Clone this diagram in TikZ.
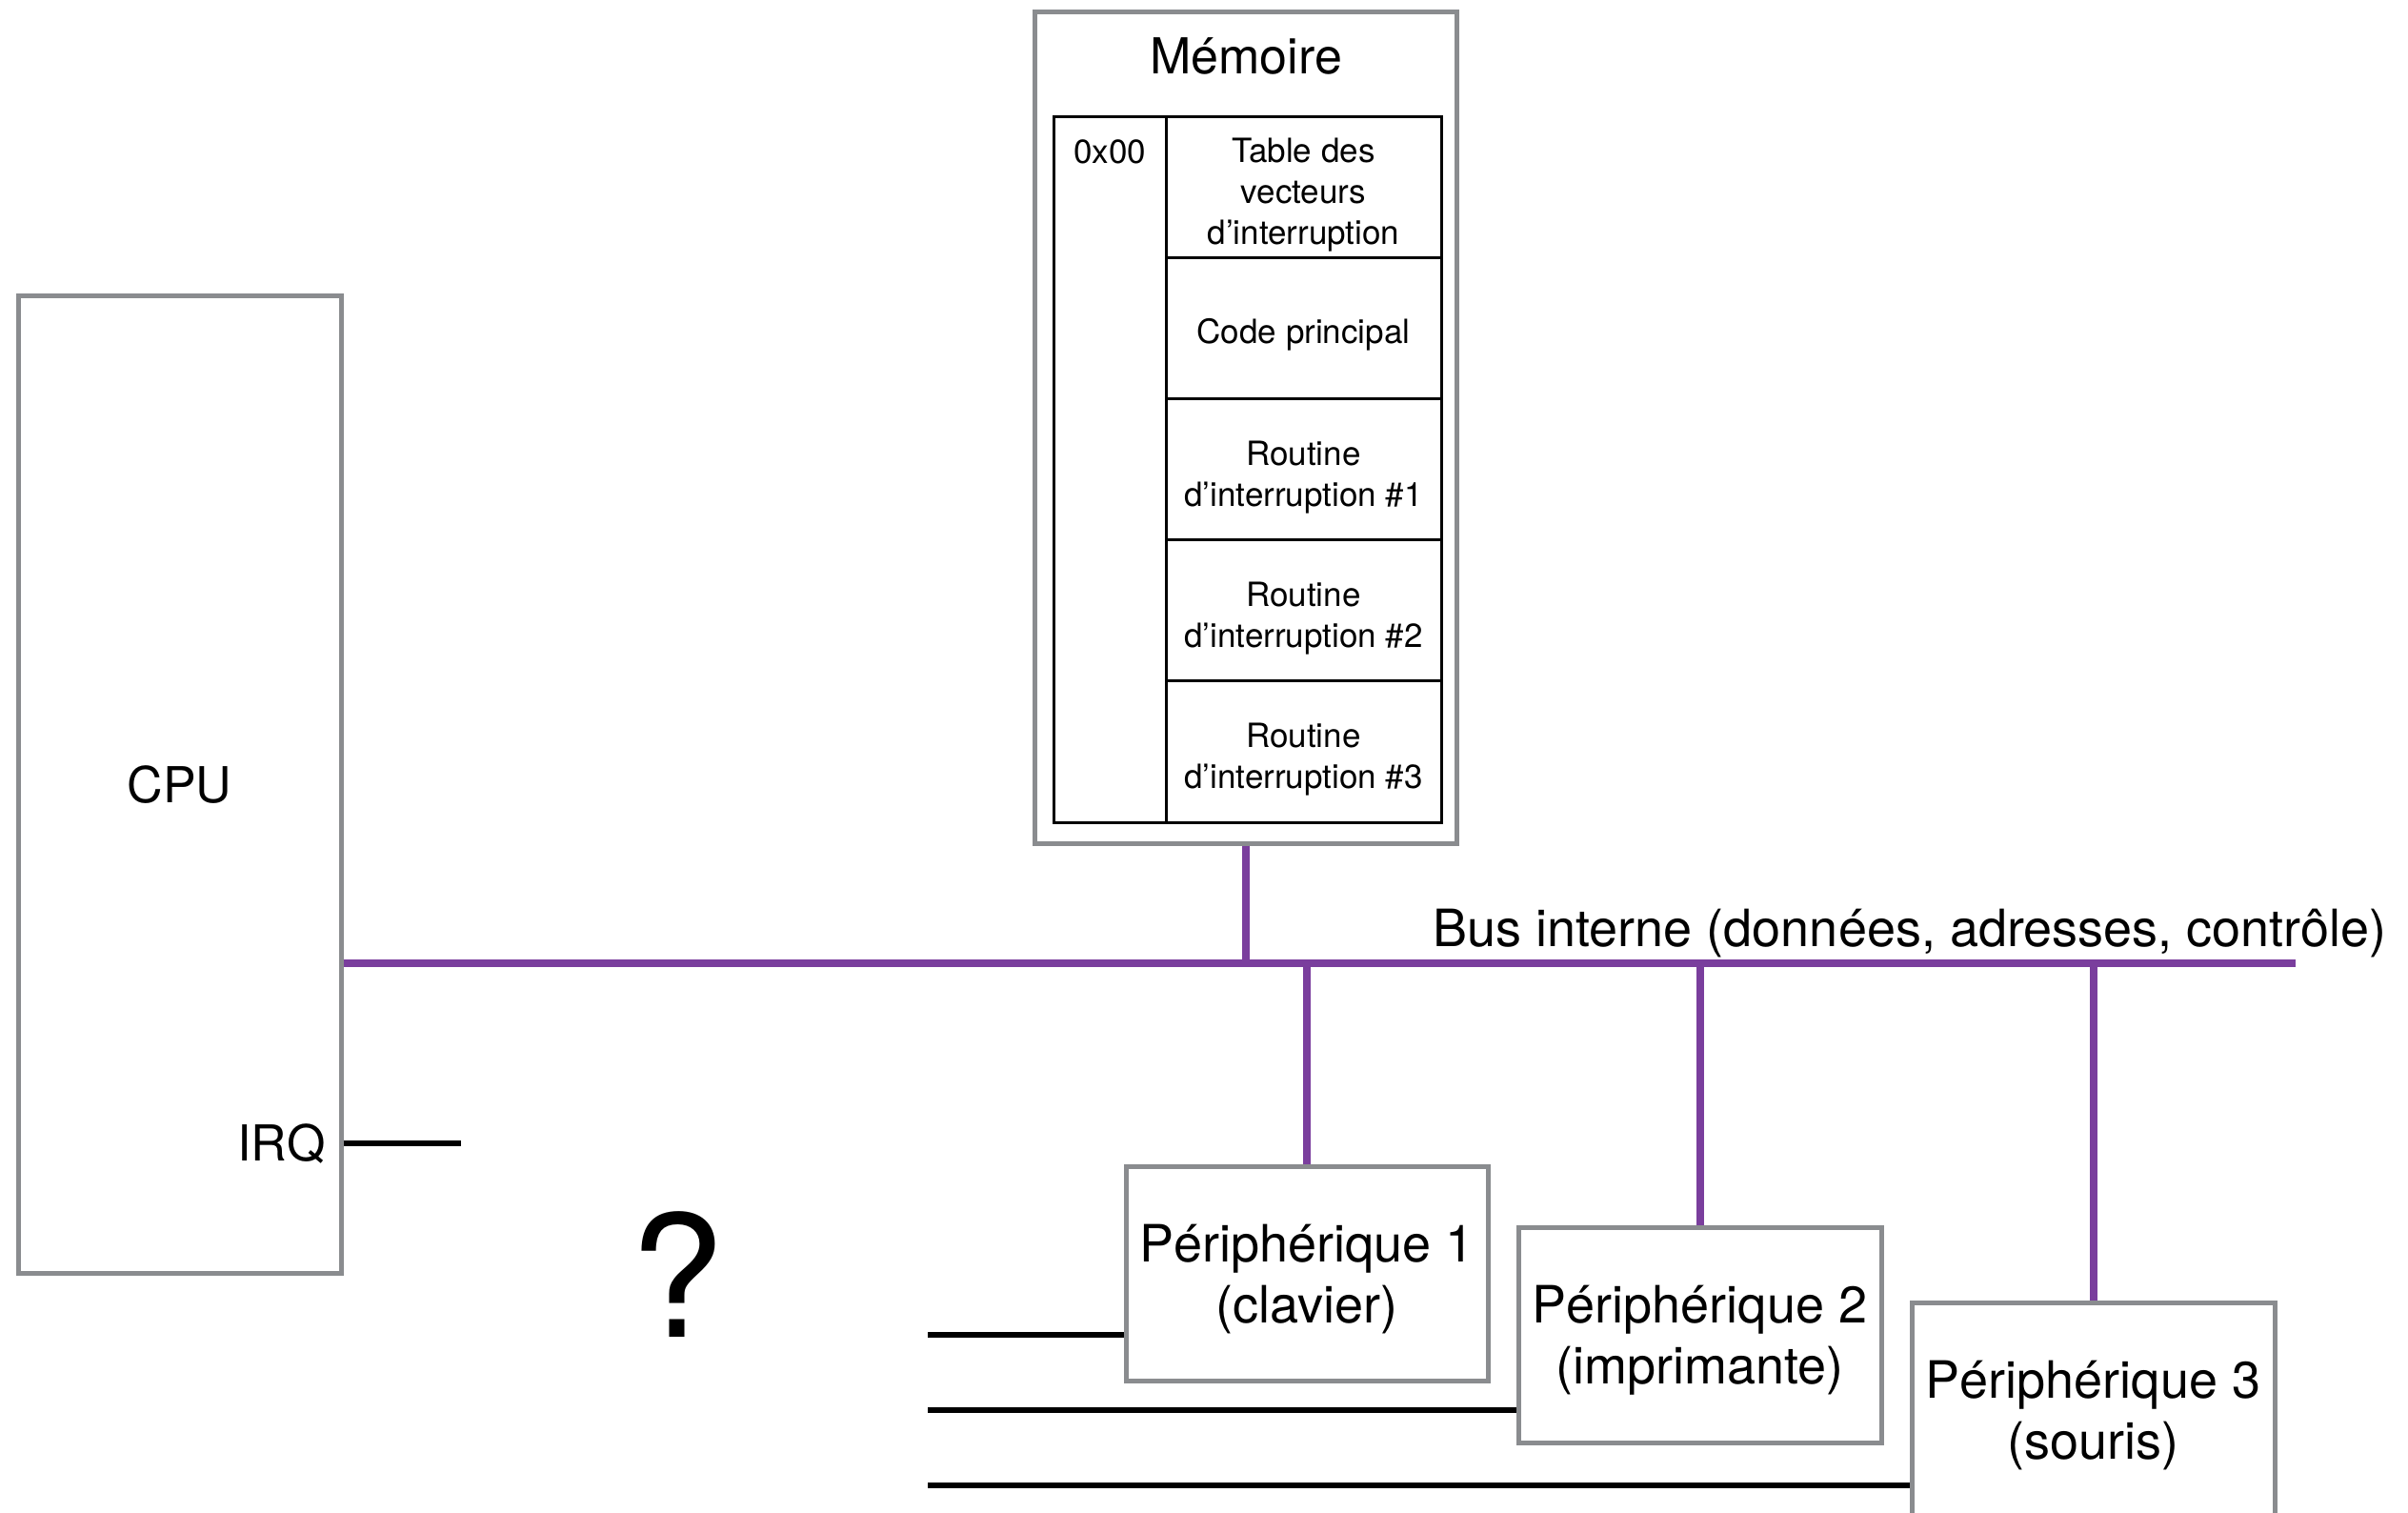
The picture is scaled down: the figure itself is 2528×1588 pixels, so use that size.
\documentclass[tikz,border=0pt]{standalone}
\usepackage{fontspec}
\setmainfont{TeX Gyre Heros}
\definecolor{boxgray}{HTML}{8A8C8F}
\definecolor{buspurple}{HTML}{7A3E9D}
\begin{document}
\begin{tikzpicture}[x=0.5pt,y=-0.5pt,
  graybox/.style={draw=boxgray,line width=2.5pt,fill=white,inner sep=0pt,align=center},
  cell/.style={draw=black,line width=1.5pt,inner sep=0pt,minimum width=144.5pt,minimum height=74pt},
  celltxt/.style={inner sep=0pt,align=center,font=\fontsize{17.5}{21.5}\selectfont},
  bigtxt/.style={font=\fontsize{26}{32}\selectfont},
  pertxt/.style={font=\fontsize{27}{32}\selectfont,align=center,inner sep=0pt},
  bus/.style={draw=buspurple,line width=4pt},
  sig/.style={draw=black,line width=3pt}]
\useasboundingbox (0,0) rectangle (2528,1588);
\clip (0,0) rectangle (2528,1588);
% CPU
\node[graybox,bigtxt,minimum width=169.5pt,minimum height=512.5pt] (cpu) at (188.5,823.5) {CPU};
\node[bigtxt,anchor=base east,inner sep=0pt] (irq) at (342,1218) {IRQ};
% Memory
\node[graybox,minimum width=221.5pt,minimum height=436pt] (mem) at (1307.5,449) {};
\node[bigtxt,anchor=base,inner sep=0pt] (memtitle) at (1308,78) {Mémoire};
\node[draw=black,line width=1.5pt,inner sep=0pt,minimum width=59pt,minimum height=370pt] (addr) at (1165,493) {};
\node[anchor=base,inner sep=0pt,font=\fontsize{17.5}{21.5}\selectfont] (addr0) at (1165,172) {0x00};
\node[cell] (c1) at (1368.5,197) {};
\node[cell] (c2) at (1368.5,345) {};
\node[cell] (c3) at (1368.5,493) {};
\node[cell] (c4) at (1368.5,641) {};
\node[cell] (c5) at (1368.5,789) {};
\node[celltxt] (t1) at ([yshift=-4pt]c1.center) {Table des\\vecteurs\\d’interruption};
\node[celltxt] (t2) at ([yshift=-3pt]c2.center) {Code principal};
\node[celltxt] (t3) at ([yshift=-4pt]c3.center) {Routine\\d’interruption \#1};
\node[celltxt] (t4) at ([yshift=-4pt]c4.center) {Routine\\d’interruption \#2};
\node[celltxt] (t5) at ([yshift=-4pt]c5.center) {Routine\\d’interruption \#3};
% Peripherals
\node[graybox,minimum width=190pt,minimum height=112.5pt] (p1) at (1372,1336.5) {};
\node[graybox,minimum width=190.5pt,minimum height=113pt] (p2) at (1784.5,1401) {};
\node[graybox,minimum width=190.5pt,minimum height=113pt] (p3) at (2197.5,1480) {};
\node[pertxt] (p1txt) at ([yshift=-3pt]p1.center) {Périphérique 1\\(clavier)};
\node[pertxt] (p2txt) at ([yshift=-3pt]p2.center) {Périphérique 2\\(imprimante)};
\node[pertxt] (p3txt) at ([yshift=-3pt]p3.center) {Périphérique 3\\(souris)};
% Bus
\coordinate (busR) at (2410,1011);
\draw[bus] (cpu.east |- busR) -- (busR);
\node[font=\fontsize{27}{32}\selectfont,anchor=base,inner sep=0pt] (buslbl) at (2005,993) {Bus interne (données, adresses, contrôle)};
\draw[bus] (mem.south) -- (mem.south |- busR);
\draw[bus] (p1.north |- busR) -- (p1.north);
\draw[bus] (p2.north |- busR) -- (p2.north);
\draw[bus] (p3.north |- busR) -- (p3.north);
% IRQ line
\coordinate (irqEnd) at (484,1200);
\draw[sig] (cpu.east |- irqEnd) -- (irqEnd);
% question mark
\node[font=\fontsize{89}{100}\selectfont,inner sep=0pt] (q) at (711,1338) {?};
% interrupt lines
\coordinate (l1) at (974,1401);
\coordinate (l2) at (974,1480);
\coordinate (l3) at (974,1559);
\draw[sig] (l1) -- (l1 -| p1.west);
\draw[sig] (l2) -- (l2 -| p2.west);
\draw[sig] (l3) -- (l3 -| p3.west);
\end{tikzpicture}
\end{document}
